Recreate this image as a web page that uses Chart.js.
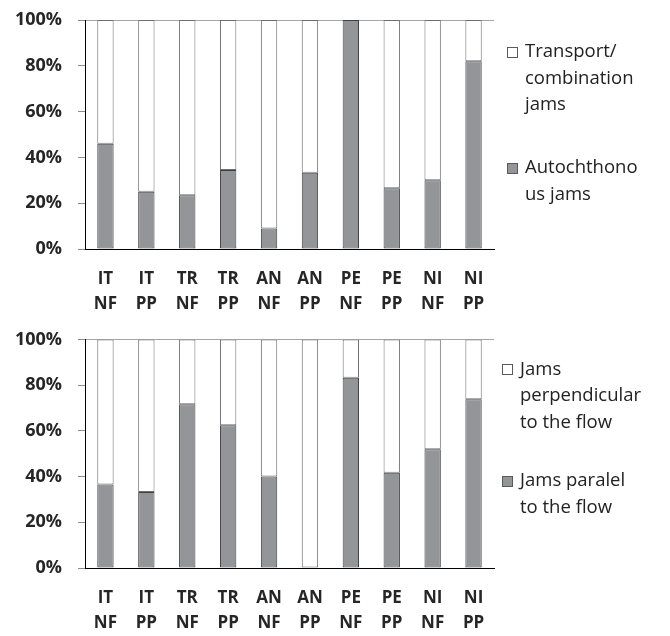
<!DOCTYPE html>
<html>
<head>
<meta charset="utf-8">
<script src="https://cdn.jsdelivr.net/npm/chart.js@4"></script>
<style>
  html, body { margin: 0; padding: 0; background: #ffffff; }
  #wrap { position: relative; width: 670px; height: 636px; overflow: hidden; }
  canvas { position: absolute; left: 0; }
  .legend { position: absolute; font-family: "Open Sans", sans-serif; font-size: 18.5px; color: #222; }
  .item { position: absolute; white-space: nowrap; }
  .line { height: 26.5px; line-height: 26.5px; }
  .box { position: absolute; width: 9px; height: 9px; border: 1px solid #5a5a5a; }
</style>
</head>
<body>
<div id="wrap">
  <canvas id="c1" width="670" height="318" style="top:0px"></canvas>
  <canvas id="c2" width="670" height="318" style="top:318px"></canvas>
  <div id="leg1" class="legend"></div>
  <div id="leg2" class="legend"></div>
</div>
<script>
// ---- data ----
const categories = [["IT","NF"],["IT","PP"],["TR","NF"],["TR","PP"],["AN","NF"],["AN","PP"],["PE","NF"],["PE","PP"],["NI","NF"],["NI","PP"]];
const yTicks = [0, 20, 40, 60, 80, 100];

// top chart
const autochthonous = [46, 25, 23.5, 34.5, 9, 33.3, 100, 26.5, 30, 82];
const transport     = [54, 75, 76.5, 65.5, 91, 66.7, 0, 73.5, 70, 18];
const topLabelAuto  = ["Autochthono", "us jams"];
const topLabelTrans = ["Transport/", "combination", "jams"];

// bottom chart
const parallel      = [36.5, 33.3, 71.7, 62.5, 40, 0, 83.3, 41.7, 52, 73.9];
const perpendicular = [63.5, 66.7, 28.3, 37.5, 60, 100, 16.7, 58.3, 48, 26.1];
const botLabelPar   = ["Jams paralel", "to the flow"];
const botLabelPerp  = ["Jams", "perpendicular", "to the flow"];

// ---- styles ----
const GRAY = '#939598', GRAY_BORDER = '#404040';
const WHITE = '#ffffff', WHITE_BORDER = '#6e6e6e';
const FRAME = '#a6a6a6';
const X_FONT = { family: '"Open Sans", sans-serif', size: 17, weight: 'bold', lineHeight: 1.5 };
const Y_FONT = { family: '"Open Sans", sans-serif', size: 18, weight: 'bold' };

function makeChart(id, grayData, whiteData, grayLabel, whiteLabel, padTop, xHeight) {
  return new Chart(document.getElementById(id), {
    type: 'bar',
    data: {
      labels: categories,
      datasets: [
        { label: grayLabel.join(' '), data: grayData, backgroundColor: GRAY, borderColor: GRAY_BORDER, borderWidth: 1, borderSkipped: false },
        { label: whiteLabel.join(' '), data: whiteData, backgroundColor: WHITE, borderColor: WHITE_BORDER, borderWidth: 1, borderSkipped: false }
      ]
    },
    options: {
      responsive: false,
      animation: false,
      devicePixelRatio: 1,
      layout: { padding: { top: padTop, right: 176, left: 0, bottom: 0 } },
      datasets: { bar: { categoryPercentage: 1.0, barPercentage: 0.4 } },
      plugins: { legend: { display: false }, tooltip: { enabled: false } },
      scales: {
        x: {
          stacked: true,
          offset: true,
          afterFit: (s) => { s.height = xHeight; s.paddingLeft = 0; s.paddingRight = 0; },
          grid: {
            offset: true,
            drawTicks: false,
            color: (ctx) => ctx.index === categories.length ? FRAME : 'rgba(0,0,0,0)',
            lineWidth: 1
          },
          border: { color: '#000000', width: 1 },
          ticks: { font: X_FONT, color: '#262626', padding: 17, maxRotation: 0, autoSkip: false }
        },
        y: {
          stacked: true,
          min: 0, max: 100,
          afterFit: (s) => { s.width = 85; s.paddingTop = 0; s.paddingBottom = 0; },
          afterBuildTicks: (s) => { s.ticks = yTicks.map(v => ({ value: v })); },
          grid: {
            color: (ctx) => (ctx.tick && ctx.tick.value === 100) ? FRAME : 'rgba(0,0,0,0)',
            tickColor: '#8c8c8c',
            tickLength: 7,
            lineWidth: 1
          },
          border: { color: '#000000', width: 1 },
          ticks: { font: Y_FONT, color: '#262626', padding: 16, callback: (v) => v + '%' }
        }
      }
    }
  });
}

makeChart('c1', autochthonous, transport, topLabelAuto, topLabelTrans, 20, 69);
makeChart('c2', parallel, perpendicular, botLabelPar, botLabelPerp, 21.5, 68);

// ---- HTML legends ----
function buildLegend(el, items) {
  items.forEach(it => {
    const d = document.createElement('div');
    d.className = 'item';
    d.style.left = it.textX + 'px';
    d.style.top = it.top + 'px';
    it.lines.forEach(t => {
      const l = document.createElement('div');
      l.className = 'line';
      l.textContent = t;
      d.appendChild(l);
    });
    const b = document.createElement('div');
    b.className = 'box';
    b.style.background = it.color;
    b.style.left = it.boxX + 'px';
    b.style.top = (it.top + 9.5) + 'px';
    el.appendChild(b);
    el.appendChild(d);
  });
}
buildLegend(document.getElementById('leg1'), [
  { lines: topLabelTrans, color: WHITE, top: 37, textX: 525, boxX: 507 },
  { lines: topLabelAuto,  color: GRAY,  top: 153, textX: 525, boxX: 507 }
]);
buildLegend(document.getElementById('leg2'), [
  { lines: botLabelPerp, color: WHITE, top: 354.5, textX: 520, boxX: 502 },
  { lines: botLabelPar,  color: GRAY,  top: 466, textX: 520, boxX: 502 }
]);
</script>
</body>
</html>
